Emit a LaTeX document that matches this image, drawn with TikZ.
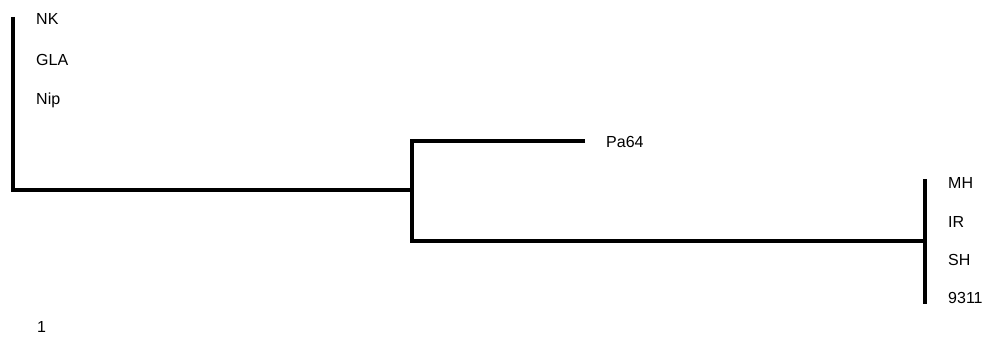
\documentclass[tikz,border=0pt]{standalone}
\usepackage{fontspec}
\setmainfont{Liberation Sans}
\begin{document}
\begin{tikzpicture}[x=1pt,y=-1pt,
  branch/.style={line width=4pt,line join=miter,line cap=butt},
  leaf/.style={anchor=west,inner sep=0pt,font=\fontsize{16pt}{19pt}\selectfont}]
\useasboundingbox (0,0) rectangle (988,337);
% coordinates
\coordinate (t1) at (13,17);
\coordinate (c1) at (13,190);
\coordinate (r) at (412,190);
\coordinate (ptop) at (412,141);
\coordinate (pa) at (585,141);
\coordinate (pbot) at (412,241);
\coordinate (m) at (925,241);
\coordinate (mt) at (925,179);
\coordinate (mb) at (925,304);
% labels
\node[leaf] (nk) at (36,19) {NK};
\node[leaf] (gla) at (36,60) {GLA};
\node[leaf] (nip) at (36,100) {Nip};
\node[leaf] (pa64) at (606,142) {Pa64};
\node[leaf] (mh) at (948,183) {MH};
\node[leaf] (ir) at (948,222) {IR};
\node[leaf] (sh) at (948,260) {SH};
\node[leaf] (n9311) at (948,298) {9311};
\node[leaf] (scale) at (37,327) {1};
% branches
\draw[branch] (t1) -- (c1) -- (r);
\draw[branch] (pa) -- (ptop) -- (pbot) -- (m);
\draw[branch] (mt) -- (mb);
\end{tikzpicture}
\end{document}
